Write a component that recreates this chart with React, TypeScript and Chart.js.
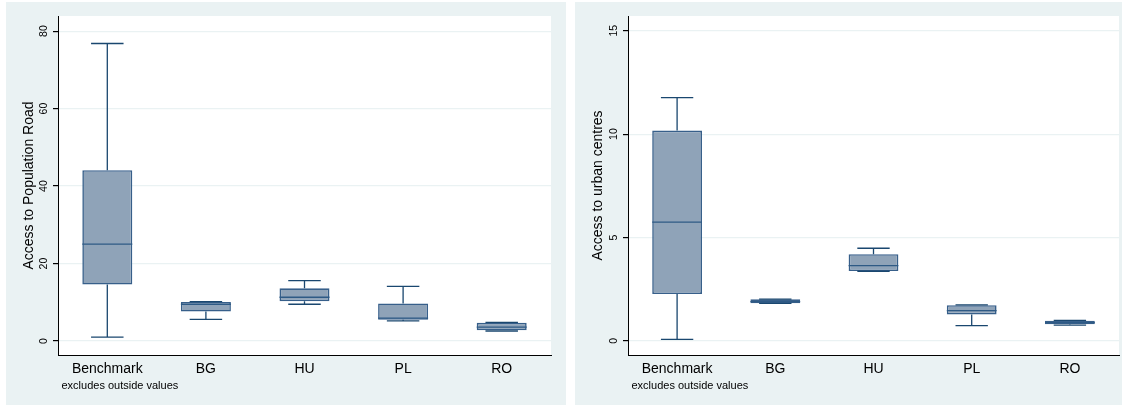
import React, { useEffect, useRef } from 'react';
import { Chart, registerables } from 'chart.js';

Chart.register(...registerables);

// ---------- data ----------
const categories = ['Benchmark', 'BG', 'HU', 'PL', 'RO'];

const roadMin = [1.0, 5.6, 9.5, 5.2, 2.6];
const roadQ1 = [14.6, 7.6, 10.3, 5.5, 2.8];
const roadMedian = [25.0, 9.5, 11.3, 5.9, 3.6];
const roadQ3 = [44.1, 10.1, 13.6, 9.7, 4.7];
const roadMax = [76.8, 10.2, 15.6, 14.1, 4.8];
const roadTicks = [0, 20, 40, 60, 80];

const urbanMin = [0.08, 1.82, 3.37, 0.74, 0.76];
const urbanQ1 = [2.27, 1.82, 3.38, 1.28, 0.81];
const urbanMedian = [5.74, 1.9, 3.64, 1.47, 0.89];
const urbanQ3 = [10.17, 2.01, 4.19, 1.73, 0.98];
const urbanMax = [11.76, 2.02, 4.48, 1.74, 0.99];
const urbanTicks = [0, 5, 10, 15];

const noteText = 'excludes outside values';
const roadTitle = 'Access to Population Road';
const urbanTitle = 'Access to urban centres';

// ---------- styles ----------
const FONT = '"Liberation Sans", Arial, Helvetica, sans-serif';
const PANEL_BG = '#EAF2F3';
const GRID = '#EAF2F3';
const BOX_FILL = '#8FA3B8';
const BOX_BORDER = '#375F8A';
const WHISKER = '#1A476F';
const MEDIAN = '#2E5A85';
const PANEL_H = 403;

type PanelProps = {
  left: number;
  width: number;
  axisWidth: number;
  rightPad: number;
  title: string;
  mins: number[];
  q1s: number[];
  meds: number[];
  q3s: number[];
  maxs: number[];
  ticks: number[];
  yMin: number;
  yMax: number;
};

function BoxPanel(p: PanelProps) {
  const ref = useRef<HTMLCanvasElement>(null);

  useEffect(() => {
    if (!ref.current) return;
    const extras = {
      id: 'boxExtras',
      beforeDraw(chart: any) {
        const { ctx, chartArea } = chart;
        ctx.save();
        ctx.fillStyle = '#ffffff';
        ctx.fillRect(
          chartArea.left,
          chartArea.top,
          chartArea.right - chartArea.left,
          chartArea.bottom - chartArea.top
        );
        ctx.restore();
      },
      afterDatasetsDraw(chart: any) {
        const { ctx, chartArea } = chart;
        const y = chart.scales.y;
        const meta = chart.getDatasetMeta(0);
        ctx.save();
        meta.data.forEach((bar: any, i: number) => {
          const cx = bar.x;
          const w = bar.width;
          const cap = w * 0.65;
          const pMin = y.getPixelForValue(p.mins[i]);
          const pMax = y.getPixelForValue(p.maxs[i]);
          const pQ1 = y.getPixelForValue(p.q1s[i]);
          const pQ3 = y.getPixelForValue(p.q3s[i]);
          const pMed = y.getPixelForValue(p.meds[i]);
          ctx.strokeStyle = WHISKER;
          ctx.lineWidth = 1.3;
          ctx.beginPath();
          ctx.moveTo(cx, pQ3);
          ctx.lineTo(cx, pMax);
          ctx.moveTo(cx, pQ1);
          ctx.lineTo(cx, pMin);
          ctx.moveTo(cx - cap / 2, pMax);
          ctx.lineTo(cx + cap / 2, pMax);
          ctx.moveTo(cx - cap / 2, pMin);
          ctx.lineTo(cx + cap / 2, pMin);
          ctx.stroke();
          ctx.strokeStyle = MEDIAN;
          ctx.lineWidth = 1.3;
          ctx.beginPath();
          ctx.moveTo(cx - w / 2, pMed);
          ctx.lineTo(cx + w / 2, pMed);
          ctx.stroke();
        });
        // y tick labels, rotated
        ctx.fillStyle = '#000';
        ctx.font = `10.5px ${FONT}`;
        ctx.textAlign = 'center';
        ctx.textBaseline = 'alphabetic';
        p.ticks.forEach((v) => {
          const py = y.getPixelForValue(v);
          ctx.save();
          ctx.translate(chartArea.left - 11.5, py);
          ctx.rotate(-Math.PI / 2);
          ctx.fillText(String(v), 0, 0);
          ctx.restore();
        });
        // note
        ctx.font = `11px ${FONT}`;
        ctx.textAlign = 'left';
        ctx.fillText(noteText, chartArea.left + 3.5, 387);
        ctx.restore();
      },
    };

    const chart = new Chart(ref.current, {
      type: 'bar',
      data: {
        labels: categories,
        datasets: [
          {
            data: categories.map((_, i) => [p.q1s[i], p.q3s[i]]) as any,
            backgroundColor: BOX_FILL,
            borderColor: BOX_BORDER,
            borderWidth: 1.6,
            borderSkipped: false,
            barPercentage: 0.507,
            categoryPercentage: 1,
          },
        ],
      },
      options: {
        responsive: false,
        animation: false,
        devicePixelRatio: 1,
        layout: { padding: { left: 0, top: 14, right: p.rightPad, bottom: 0 } },
        plugins: {
          legend: { display: false },
          tooltip: { enabled: false },
        },
        scales: {
          x: {
            type: 'category',
            offset: true,
            grid: { display: false, drawTicks: false },
            border: { display: true, color: '#000', width: 1 },
            ticks: { font: { family: FONT, size: 14 }, color: '#000', padding: 6 },
            afterFit: (s: any) => {
              s.height = 50;
            },
          },
          y: {
            type: 'linear',
            min: p.yMin,
            max: p.yMax,
            afterBuildTicks: (s: any) => {
              s.ticks = p.ticks.map((v) => ({ value: v }));
            },
            ticks: { display: false },
            grid: { color: GRID, lineWidth: 1.2, tickColor: '#000', tickLength: 5, drawTicks: true },
            border: { display: true, color: '#000', width: 1 },
            title: {
              display: true,
              text: p.title,
              color: '#000',
              font: { family: FONT, size: 14 },
              padding: { top: 14.75, bottom: 0 },
            },
            afterFit: (s: any) => {
              s.width = p.axisWidth;
            },
          },
        },
      } as any,
      plugins: [extras],
    });
    return () => chart.destroy();
  }, []);

  return (
    <div
      style={{
        position: 'absolute',
        left: p.left,
        top: 2,
        width: p.width,
        height: PANEL_H,
        background: PANEL_BG,
      }}
    >
      <canvas
        ref={ref}
        width={p.width}
        height={PANEL_H}
        style={{ display: 'block', width: p.width, height: PANEL_H }}
      />
    </div>
  );
}

export default function App() {
  return (
    <div
      style={{
        position: 'fixed',
        left: 0,
        top: 0,
        width: 1122,
        height: 407,
        background: '#fff',
        overflow: 'hidden',
      }}
    >
      <BoxPanel
        left={6}
        width={560}
        axisWidth={52}
        rightPad={15}
        title={roadTitle}
        mins={roadMin}
        q1s={roadQ1}
        meds={roadMedian}
        q3s={roadQ3}
        maxs={roadMax}
        ticks={roadTicks}
        yMin={-3.6}
        yMax={83.9}
      />
      <BoxPanel
        left={575}
        width={547}
        axisWidth={53}
        rightPad={3}
        title={urbanTitle}
        mins={urbanMin}
        q1s={urbanQ1}
        meds={urbanMedian}
        q3s={urbanQ3}
        maxs={urbanMax}
        ticks={urbanTicks}
        yMin={-0.68}
        yMax={15.71}
      />
    </div>
  );
}
